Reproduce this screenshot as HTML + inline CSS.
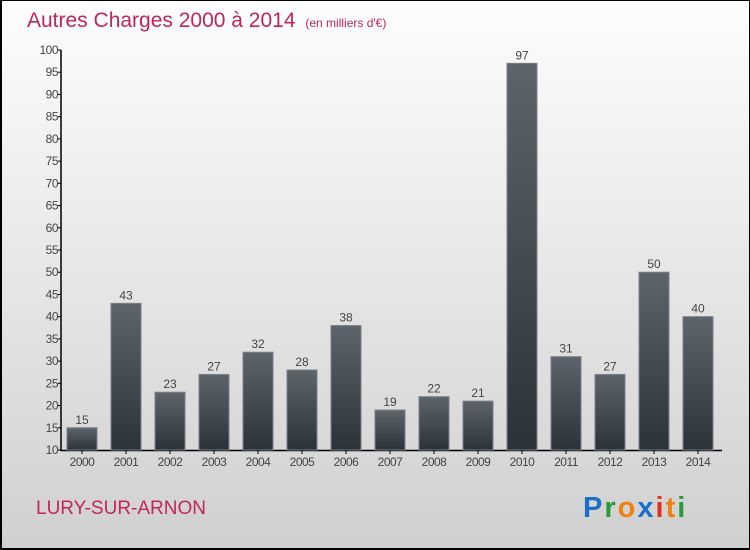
<!DOCTYPE html>
<html><head><meta charset="utf-8"><style>
body{margin:0;}
#c{width:750px;height:550px;position:relative;box-sizing:border-box;border:2px solid #000;border-right-width:1px;border-top-width:1px;background:linear-gradient(#fdfdfd,#d0d0d0);font-family:"Liberation Sans",sans-serif;overflow:hidden}
</style></head><body>
<div id="c">
<svg width="750" height="550" style="position:absolute;left:-2px;top:-1px">
<defs><linearGradient id="g" x1="0" y1="0" x2="0" y2="1"><stop offset="0" stop-color="#5d646c"/><stop offset="1" stop-color="#2c323a"/></linearGradient></defs>
<text x="27" y="27" font-size="21" fill="#c2255c">Autres Charges 2000 à 2014 <tspan font-size="12" dx="4">(en milliers d'€)</tspan></text>
<text x="36" y="514" font-size="19" fill="#c2255c">LURY-SUR-ARNON</text>
<g id="plot"></g>
<text x="583" y="517" font-size="29" font-weight="bold" letter-spacing="2"><tspan fill="#1a6fcc">P</tspan><tspan fill="#2a9a3a">r</tspan><tspan fill="#f08010">o</tspan><tspan fill="#1a6fcc">x</tspan><tspan fill="#e03020">i</tspan><tspan fill="#f08010">t</tspan><tspan fill="#2a9a3a">i</tspan></text>
</svg></div>
<script>
const years=["2000","2001","2002","2003","2004","2005","2006","2007","2008","2009","2010","2011","2012","2013","2014"];
const values=[15,43,23,27,32,28,38,19,22,21,97,31,27,50,40];
const ticks=[10,15,20,25,30,35,40,45,50,55,60,65,70,75,80,85,90,95,100];
const NS="http://www.w3.org/2000/svg",p=document.getElementById('plot');
const y=v=>450-(v-10)*400/90, x=i=>67+i*44;
function mk(t,a,txt){const e=document.createElementNS(NS,t);for(const k in a)e.setAttribute(k,a[k]);if(txt!=null)e.textContent=txt;p.appendChild(e);return e;}
let ax=mk('line',{x1:61,y1:50,x2:61,y2:451,stroke:'#000','stroke-width':1.5});

let bx=mk('line',{x1:61,y1:450.5,x2:722,y2:450.5,stroke:'#000','stroke-width':1.5});

ticks.forEach(t=>{
 let l=mk('line',{x1:58,x2:61,y1:y(t),y2:y(t),stroke:'#000'});
 
 let tx=mk('text',{x:58,y:y(t)+4,'font-size':12,'text-anchor':'end',fill:'#444','letter-spacing':'-0.5'},t);
 
});
years.forEach((yr,i)=>{
 let r=mk('rect',{x:x(i),y:y(values[i]),width:30,height:450-y(values[i]),fill:'url(#g)',stroke:'#7a8088','stroke-width':1});
 
 let v=mk('text',{x:x(i)+15,y:y(values[i])-4,'font-size':12,'text-anchor':'middle',fill:'#444'},values[i]);
 
 let tk=mk('line',{x1:x(i)+15,x2:x(i)+15,y1:450,y2:454,stroke:'#000'});
 
 let t=mk('text',{x:x(i)+15,y:466,'font-size':12,'text-anchor':'middle',fill:'#444','letter-spacing':'-0.5'},yr);
 
});
</script>
</body></html>
